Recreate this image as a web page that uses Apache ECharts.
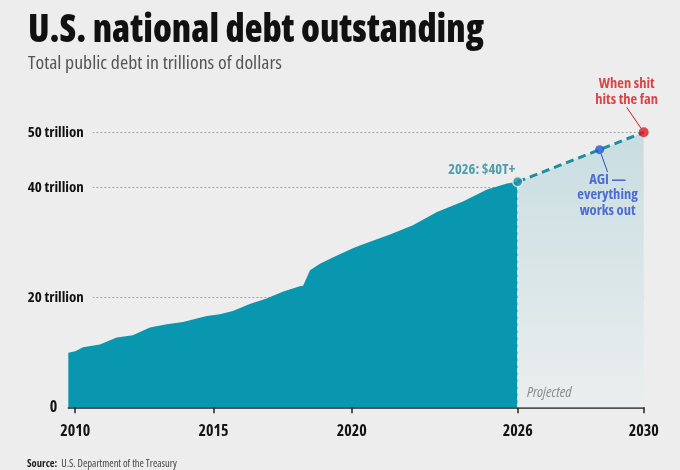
<!DOCTYPE html>
<html><head><meta charset="utf-8">
<script src="https://cdn.jsdelivr.net/npm/echarts@6/dist/echarts.min.js"></script>
<style>html,body{margin:0;padding:0;background:#eeeded;}#c{width:680px;height:470px;}</style>
</head><body><div id="c"></div>
<script>
// ---- data ----
const histYears = [2009.75, 2010.0, 2010.28, 2010.89, 2011.5, 2012.08, 2012.7, 2013.31, 2013.9, 2014.75, 2015.23, 2015.7, 2016.31, 2016.92, 2017.5, 2018.12, 2018.24, 2018.49, 2018.85, 2019.33, 2020.04, 2020.29, 2021.38, 2022.21, 2023.08, 2024.02, 2024.89, 2025.61, 2026.0];
const histDebt  = [9.9, 10.2, 10.9, 11.4, 12.7, 13.1, 14.5, 15.1, 15.5, 16.6, 16.9, 17.5, 18.8, 19.8, 21.0, 22.0, 22.1, 24.9, 26.1, 27.3, 28.9, 29.4, 31.4, 33.1, 35.5, 37.4, 39.6, 40.7, 41.0];
const projYears = [2026, 2028.6, 2030];
const projDebt  = [41, 46.85, 50];
const projLabels = ['2026: $40T+', 'AGI \u2014\neverything\nworks out', 'When shit\nhits the fan'];
const xTickYears = [2010, 2015, 2020, 2026, 2030];
const yTickValues = [0, 20, 40, 50];
const TITLE = 'U.S. national debt outstanding';
const SUBTITLE = 'Total public debt in trillions of dollars';
const SOURCE = 'U.S. Department of the Treasury';
const PROJ_TEXT = 'Projected';

// ---- font choice (condensed face if one is available) ----
const mctx = document.createElement('canvas').getContext('2d');
function w(font, s) { mctx.font = font; return mctx.measureText(s).width; }
function installed(fam) {
  const s = 'mmmmWWWiil1 2026 trillion';
  return ['monospace', 'serif'].some(g => Math.abs(w('bold 20px ' + fam + ', ' + g, s) - w('bold 20px ' + g, s)) > 0.5);
}
let FAM = "'DejaVu Sans Condensed', sans-serif", STRETCH = '';
(function pick() {
  const s = '2026: $40T+ trillion';
  if (installed("'Liberation Sans Narrow'")) { FAM = "'Liberation Sans Narrow', sans-serif"; return; }
  for (const f of ["'Noto Sans'", "'Open Sans'", "'Roboto'"]) {
    if (!installed(f)) continue;
    const n = w('bold 20px ' + f + ', sans-serif', s), c = w('bold condensed 20px ' + f + ', sans-serif', s);
    if (c < n * 0.9) { FAM = f + ', sans-serif'; STRETCH = 'condensed'; return; }
  }
})();
const SX = STRETCH ? ' ' + STRETCH : '';
const WB = 'bold' + SX;
const WH = '900' + SX;
const WN = 'normal' + SX;

// ---- styles ----
const BG = '#eeeded';
const TEAL = '#0997b0';
const DOT_COLORS = ['#1a8c9b', '#2156d8', '#dc1a22'];
const TEXT_COLORS = ['#23899a', '#2a4fc9', '#d3191f'];
const GRID_COLOR = '#a3a3a3';

function fitScale(text, weight, size, target) {
  return target / w(weight + ' ' + size + 'px ' + FAM, text);
}

const histData = histYears.map((y, i) => [y, histDebt[i]]);
const projData = projYears.map((y, i) => [y, projDebt[i]]);
const splitColors = [0, 10, 20, 30, 40, 50].map(v => (v > 0 && yTickValues.includes(v)) ? GRID_COLOR : 'rgba(0,0,0,0)');
const split = { show: true, lineStyle: { color: splitColors, type: [2, 2], width: 1 } };
const histX = xTickYears.filter(v => v <= projYears[0]);
const projX = xTickYears.filter(v => v > projYears[0]);

const xCommon = {
  type: 'value',
  axisLine: { show: true, lineStyle: { color: '#222', width: 1.5 } },
  axisTick: { show: true, length: 6, lineStyle: { color: '#222', width: 1.5 } },
  axisLabel: { color: '#141414', fontFamily: FAM, fontWeight: WB, fontSize: 16, margin: 16, formatter: v => String(v) },
  splitLine: { show: false }
};

const labelLayouts = [
  { dx: -36, dy: 6 },
  { dx: 8, dy: 13 },
  { dx: -17, dy: -15 }
];
const labelPos = ['top', 'bottom', 'top'];
const dotSizes = [10, 9, 10];

const dotData = projData.map((d, i) => ({
  value: d,
  symbolSize: dotSizes[i],
  itemStyle: { color: DOT_COLORS[i], borderColor: i === 0 ? '#e6f3f5' : DOT_COLORS[i], borderWidth: i === 0 ? 1.5 : 0 },
  label: {
    show: true, formatter: projLabels[i], position: labelPos[i],
    color: TEXT_COLORS[i], fontFamily: FAM, fontWeight: WB, fontSize: 14.5, lineHeight: 15.3, align: 'center'
  },
  labelLine: { show: i > 0, lineStyle: { color: TEXT_COLORS[i], width: 1 } }
}));

const chart = echarts.init(document.getElementById('c'));
chart.setOption({
  backgroundColor: BG,
  animation: false,
  grid: [
    { left: 68.3, width: 449.4, top: 132.3, bottom: 62.7 },
    { left: 517.7, width: 126, top: 132.3, bottom: 62.7 }
  ],
  xAxis: [
    Object.assign({}, xCommon, { gridIndex: 0, min: histYears[0], max: projYears[0],
      axisTick: Object.assign({}, xCommon.axisTick, { customValues: histX }),
      axisLabel: Object.assign({}, xCommon.axisLabel, { customValues: histX }) }),
    Object.assign({}, xCommon, { gridIndex: 1, min: projYears[0], max: projYears[projYears.length - 1],
      axisTick: Object.assign({}, xCommon.axisTick, { customValues: projX }),
      axisLabel: Object.assign({}, xCommon.axisLabel, { customValues: projX }) })
  ],
  yAxis: [
    { type: 'value', gridIndex: 0, min: 0, max: 50, interval: 10,
      axisLine: { show: false }, axisTick: { show: false }, splitLine: split,
      axisLabel: {
        align: 'left', margin: 40.6, backgroundColor: BG, padding: [2, 9, 2, 0],
        formatter: v => !yTickValues.includes(v) ? '' : (v === 0 ? '{z|0}' : '{t|' + v + ' trillion}'),
        rich: {
          t: { color: '#111', fontFamily: FAM, fontWeight: WB, fontSize: 15 },
          z: { color: '#111', fontFamily: FAM, fontWeight: WB, fontSize: 16, width: 29.6, align: 'right' }
        }
      } },
    { type: 'value', gridIndex: 1, min: 0, max: 50, interval: 10,
      axisLine: { show: false }, axisTick: { show: false }, axisLabel: { show: false }, splitLine: split }
  ],
  series: [
    { type: 'line', xAxisIndex: 0, yAxisIndex: 0, data: histData, symbol: 'none',
      lineStyle: { width: 0 }, areaStyle: { color: TEAL, opacity: 1 }, z: 2 },
    { type: 'line', xAxisIndex: 1, yAxisIndex: 1, data: projData, symbol: 'none', clip: false,
      lineStyle: { color: '#1c8e9d', width: 3, type: [8, 5] },
      areaStyle: { opacity: 1, color: new echarts.graphic.LinearGradient(0, 0, 0, 1, [
        { offset: 0, color: '#c8dde1' }, { offset: 1, color: '#ebeeee' }]) },
      markLine: { symbol: 'none', silent: true, label: { show: false },
        lineStyle: { color: '#e2f0f2', type: [4, 3], width: 1 },
        data: [[{ coord: [projYears[0], 0] }, { coord: [projYears[0], projDebt[0]] }]] },
      z: 3 },
    { type: 'scatter', xAxisIndex: 1, yAxisIndex: 1, data: dotData, clip: false, z: 5,
      labelLayout: p => labelLayouts[p.dataIndex] }
  ],
  graphic: [
    { type: 'text', x: 28, y: 31, z: 10, scaleX: fitScale(TITLE, WH, 39, 456), silent: true,
      style: { text: TITLE, fontFamily: FAM, fontWeight: WH, fontSize: 39, fill: '#111', verticalAlign: 'middle' } },
    { type: 'text', x: 28, y: 64, z: 10, scaleX: fitScale(SUBTITLE, WN, 17.5, 254), silent: true,
      style: { text: SUBTITLE, fontFamily: FAM, fontWeight: WN, fontSize: 17.5, fill: '#555', verticalAlign: 'middle' } },
    { type: 'text', x: 27, y: 464, z: 10, silent: true,
      style: { text: '{b|Source:}  ' + SOURCE, fontFamily: FAM, fontWeight: WN, fontSize: 10.5, fill: '#444', verticalAlign: 'middle',
        rich: { b: { fontFamily: FAM, fontSize: 10.5, fontWeight: WB, fill: '#222' } } } },
    { type: 'text', x: 527, y: 392.7, z: 10, silent: true,
      style: { text: PROJ_TEXT, fontFamily: FAM, fontSize: 15, fontStyle: 'italic', fontWeight: WN, fill: '#8c8c8c', verticalAlign: 'middle' } }
  ]
});
</script></body></html>
